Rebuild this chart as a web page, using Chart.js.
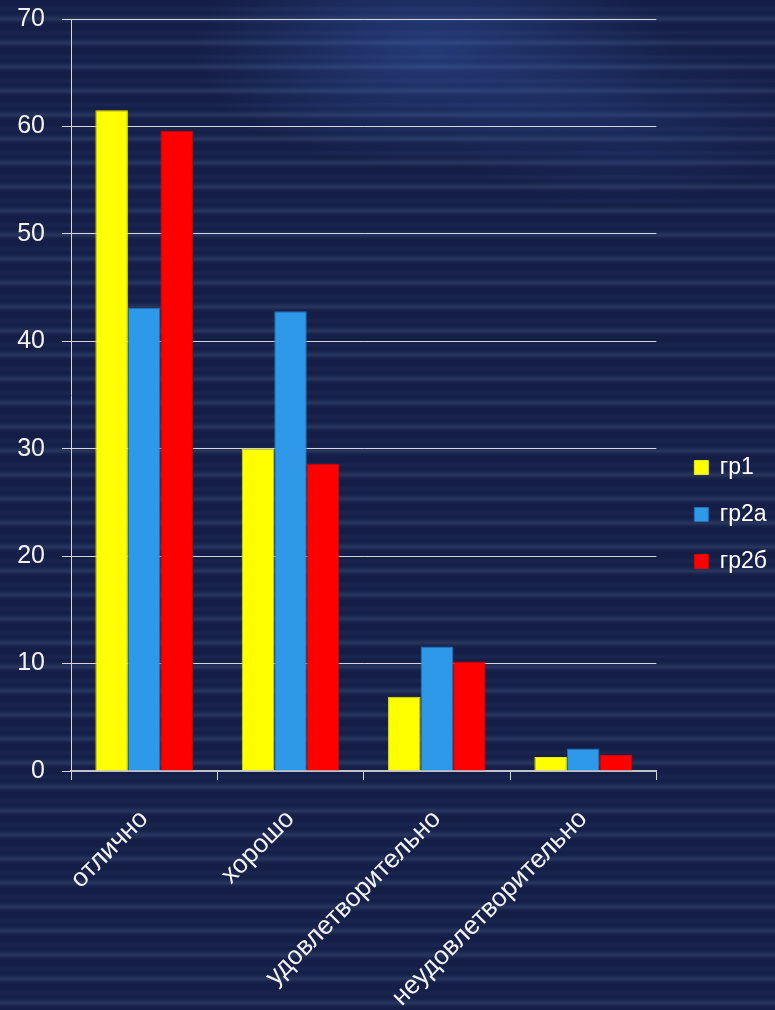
<!DOCTYPE html>
<html>
<head>
<meta charset="utf-8">
<script src="https://cdn.jsdelivr.net/npm/chart.js@4"></script>
<style>
  html, body { margin: 0; padding: 0; }
  body {
    width: 775px; height: 1010px; overflow: hidden;
    background:
      radial-gradient(ellipse 240px 120px at 430px 50px, rgba(60,100,190,0.40), rgba(60,100,190,0)),
      radial-gradient(ellipse 180px 90px at 620px 120px, rgba(50,80,160,0.25), rgba(50,80,160,0)),
      repeating-linear-gradient(to bottom, #141e46 0px, #141e46 6px, #1b2751 9px, #141e46 12px, #18234c 15px, #29375f 19px, #18234c 22px, #141e46 24px),
      #141e46;
  }
  #wrap { width: 775px; height: 1010px; position: relative; }
</style>
</head>
<body>
<div id="wrap"><canvas id="chart"></canvas></div>
<script>
// данные
const categories = ['отлично', 'хорошо', 'удовлетворительно', 'неудовлетворительно'];
const seriesNames = ['гр1', 'гр2а', 'гр2б'];
const gr1  = [61.5, 30.0, 6.9, 1.3];
const gr2a = [43.1, 42.8, 11.6, 2.1];
const gr2b = [59.6, 28.6, 10.2, 1.5];
const yMin = 0, yMax = 70, yStep = 10;

const font = 'Liberation Sans, Arial, sans-serif';
const lineCol = '#d4d6dc';

new Chart(document.getElementById('chart'), {
    type: 'bar',
    data: {
        labels: categories,
        datasets: [
            {label: seriesNames[0], data: gr1,  backgroundColor: '#ffff00', borderColor: '#e8e800', borderWidth: 1},
            {label: seriesNames[1], data: gr2a, backgroundColor: '#2e99e9', borderColor: '#2170b8', borderWidth: 1},
            {label: seriesNames[2], data: gr2b, backgroundColor: '#ff0000', borderColor: '#d80000', borderWidth: 1}
        ]
    },
    options: {
        responsive: true,
        maintainAspectRatio: false,
        animation: false,
        categoryPercentage: 0.667,
        barPercentage: 1.0,
        layout: { padding: { top: 19, left: 0, right: -2, bottom: 0 } },
        scales: {
            x: {
                grid: { display: true, drawOnChartArea: false, drawTicks: true, tickLength: 9, color: lineCol, offset: true },
                border: { display: true, color: '#c0c3cc', width: 2 },
                ticks: { color: '#f2f2f2', font: { family: font, size: 26 }, minRotation: 45, maxRotation: 45, padding: 24, autoSkip: false },
                afterFit: s => { s.height = 239; }
            },
            y: {
                min: yMin, max: yMax,
                grid: { color: lineCol, lineWidth: 1, tickLength: 9 },
                border: { display: true, color: lineCol, width: 1 },
                ticks: { stepSize: yStep, color: '#f2f2f2', font: { family: font, size: 25 }, padding: 17 },
                afterFit: s => { s.width = 71; s.paddingTop = 0; s.paddingBottom = 0; }
            },
            // пустая ось справа - отступ до легенды
            y2: {
                position: 'right',
                display: true,
                grid: { display: false },
                border: { display: false },
                ticks: { display: false },
                afterFit: s => { s.width = 14; }
            }
        },
        plugins: {
            legend: {
                position: 'right',
                labels: {
                    color: '#ffffff',
                    font: { family: font, size: 23 },
                    boxWidth: 14,
                    boxHeight: 14,
                    padding: 24
                }
            },
            tooltip: { enabled: false }
        }
    }
});
</script>
</body>
</html>
